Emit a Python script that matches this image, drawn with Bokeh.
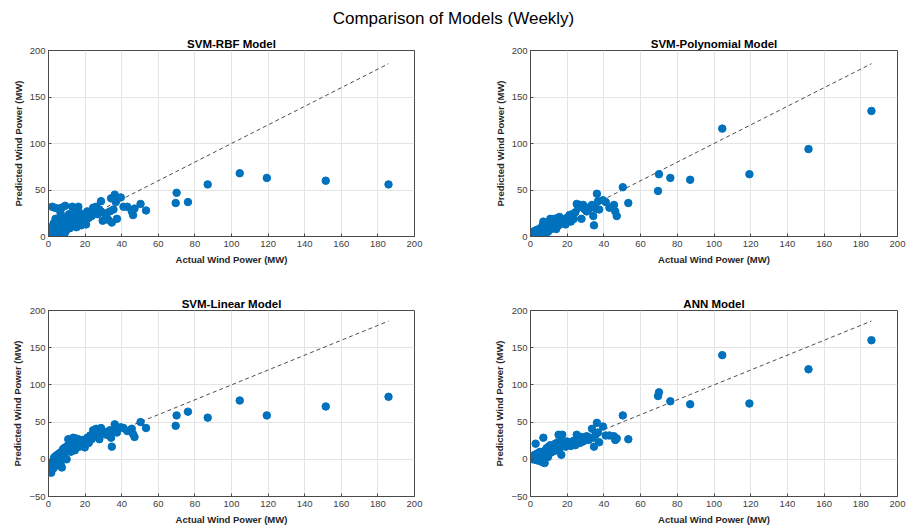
from bokeh.plotting import figure
from bokeh.layouts import column, row
from bokeh.models import Label, FixedTicker, Range1d
from bokeh.embed import file_html
from bokeh.resources import INLINE

# ---------------- data ----------------
actual = [1.2, 1.5, 2.0, 2.3, 2.8, 3.0, 3.4, 3.8, 4.1, 4.5, 4.8, 5.2, 5.5, 5.9, 6.2,
          6.6, 7.0, 7.3, 7.7, 8.0, 8.4, 8.8, 9.1, 9.5, 9.9, 10.3, 10.8, 11.2, 11.7, 12.1,
          12.6, 13.0, 13.5, 14.0, 14.4, 14.9, 15.3, 15.8, 16.3, 16.8, 17.3, 17.9, 18.5, 19.1, 19.8,
          20.5, 21.2, 22.0, 22.8, 23.6, 24.4, 25.2, 26.0, 26.9, 27.8, 28.7, 29.6, 30.6, 31.6, 32.6,
          33.5, 34.2, 34.6, 35.5, 36.2, 36.8, 37.4, 39.5, 41.0, 43.0, 45.5, 46.2, 47.0, 50.3, 53.3,
          69.5, 70.0, 76.2, 87.0, 104.5, 119.3, 151.5, 185.8]

svm_rbf = [4, 10, 32, 6, 14, 2, 31, 19, 8, 3, 12, 30, 6, 17, 2,
           25, 9, 31, 5, 14, 20, 3, 33, 11, 7, 18, 13, 24, 9, 16,
           21, 32, 12, 18, 27, 14, 10, 22, 32, 18, 25, 12, 20, 16, 22,
           13, 27, 20, 25, 22, 31, 27, 32, 24, 29, 38, 17, 25, 21, 18,
           27, 41, 15, 29, 45, 37, 19, 42, 32, 32, 27, 23, 30, 35, 28,
           36, 47, 37, 56, 68, 63, 60, 56]

svm_poly = [4, 5, 3, 6, 2, 5, 7, 4, 6, 3, 8, 5, 9, 4, 7,
            12, 16, 2, 9, 6, 11, 8, 13, 5, 10, 14, 19, 8, 12, 16,
            10, 19, 14, 8, 17, 20, 12, 21, 16, 14, 19, 15, 17, 13, 20,
            18, 23, 16, 24, 19, 26, 35, 31, 34, 19, 34, 29, 27, 29, 32,
            34, 22, 12, 30, 46, 38, 29, 39, 37, 31, 34, 27, 22, 53, 36,
            49, 67, 63, 61, 116, 67, 94, 135]

svm_linear = [-11, -18, -8, -3, -12, 2, -5, 4, -2, -8, 6, 0, -4, 8, 3,
              -6, 10, -11, 5, 14, 8, 2, 16, 11, 0, 18, 27, 14, 21, 10,
              24, 17, 29, 22, 12, 28, 20, 25, 27, 17, 24, 22, 26, 19, 16,
              24, 29, 22, 32, 27, 39, 34, 41, 31, 27, 42, 35, 37, 33, 36,
              39, 29, 17, 38, 47, 41, 36, 43, 42, 38, 41, 34, 30, 50, 42,
              45, 59, 64, 56, 79, 59, 71, 84]

ann = [0, 3, 1, 6, 21, -1, 4, 8, 2, -2, 7, 10, 3, 0, 9,
       -4, 29, 5, -5, 12, 7, 15, 10, 3, 17, 13, 19, 9, 14, 18,
       11, 16, 21, 12, 18, 23, 33, 15, 24, 6, 33, 19, 22, 17, 24,
       20, 23, 18, 21, 25, 19, 33, 27, 22, 30, 24, 28, 31, 26, 29,
       41, 29, 17, 33, 49, 36, 23, 44, 32, 32, 31, 26, 28, 59, 27,
       85, 90, 78, 74, 140, 75, 121, 160]

model_titles = ["SVM-RBF Model", "SVM-Polynomial Model", "SVM-Linear Model", "ANN Model"]
x_ticks = [0, 20, 40, 60, 80, 100, 120, 140, 160, 180, 200]
y_ticks_top = [0, 50, 100, 150, 200]
y_ticks_bottom = [-50, 0, 50, 100, 150, 200]
main_title = "Comparison of Models (Weekly)"
x_label = "Actual Wind Power (MW)"
y_label = "Predicted Wind Power (MW)"

FONT = "Liberation Sans"
BLUE = "#0072BD"
AXC = "#4a4a4a"


def panel(title, pred, ymin, yticks, width, height, bl, br, bt, bb):
    p = figure(width=width, height=height,
               x_range=Range1d(0, 200), y_range=Range1d(ymin, 200),
               output_backend="svg", toolbar_location=None,
               min_border_left=bl, min_border_right=br,
               min_border_top=bt, min_border_bottom=bb)
    p.title.text = title
    p.title.align = "center"
    p.title.text_font = FONT
    p.title.text_font_size = "11.5px"
    p.title.text_font_style = "bold"
    p.title.text_color = "#000000"
    p.title.standoff = 2
    p.title.offset = 0

    p.xaxis.ticker = FixedTicker(ticks=x_ticks)
    p.yaxis.ticker = FixedTicker(ticks=yticks)
    p.xaxis.axis_label = x_label
    p.yaxis.axis_label = y_label
    for ax in (p.xaxis, p.yaxis):
        ax.axis_label_text_font = FONT
        ax.axis_label_text_font_size = "9.5px"
        ax.axis_label_text_font_style = "bold"
        ax.axis_label_text_color = "#262626"
        ax.axis_label_standoff = 3
        ax.major_label_text_font = FONT
        ax.major_label_text_font_size = "9.5px"
        ax.major_label_text_color = "#404040"
        ax.major_label_standoff = 3
        ax.major_tick_in = 3
        ax.major_tick_out = 0
        ax.minor_tick_in = 0
        ax.minor_tick_out = 0
        ax.axis_line_color = AXC
        ax.major_tick_line_color = AXC
    p.xaxis.major_label_standoff = 4
    p.xaxis.axis_label_standoff = 4
    p.grid.grid_line_color = "#e4e4e4"
    p.outline_line_color = AXC
    p.outline_line_alpha = 1.0

    mn, mx = min(actual), max(actual)
    p.line([mn, mx], [mn, mx], line_dash="4 3", line_color="#3a3a3a", line_width=0.9)
    p.scatter(actual, pred, size=7.5, fill_color=BLUE, line_color=BLUE)
    return p


header = figure(width=906, height=30, x_range=Range1d(0, 1), y_range=Range1d(0, 1),
                output_backend="svg", toolbar_location=None,
                min_border=0)
header.axis.visible = False
header.grid.visible = False
header.outline_line_color = None
header.add_layout(Label(x=0.5, y=0.4, text=main_title, text_align="center",
                        text_baseline="middle", text_font=FONT,
                        text_font_size="17px", text_color="#000000"))

p1 = panel(model_titles[0], svm_rbf, 0, y_ticks_top, 470, 260, 48, 56, 20, 54)
p2 = panel(model_titles[1], svm_poly, 0, y_ticks_top, 436, 260, 60, 9, 20, 54)
p3 = panel(model_titles[2], svm_linear, -50, y_ticks_bottom, 470, 237, 48, 56, 20, 31)
p4 = panel(model_titles[3], ann, -50, y_ticks_bottom, 436, 237, 60, 9, 20, 31)

layout = column(header, row(p1, p2), row(p3, p4))

open("out.html", "w").write(file_html(layout, INLINE))
